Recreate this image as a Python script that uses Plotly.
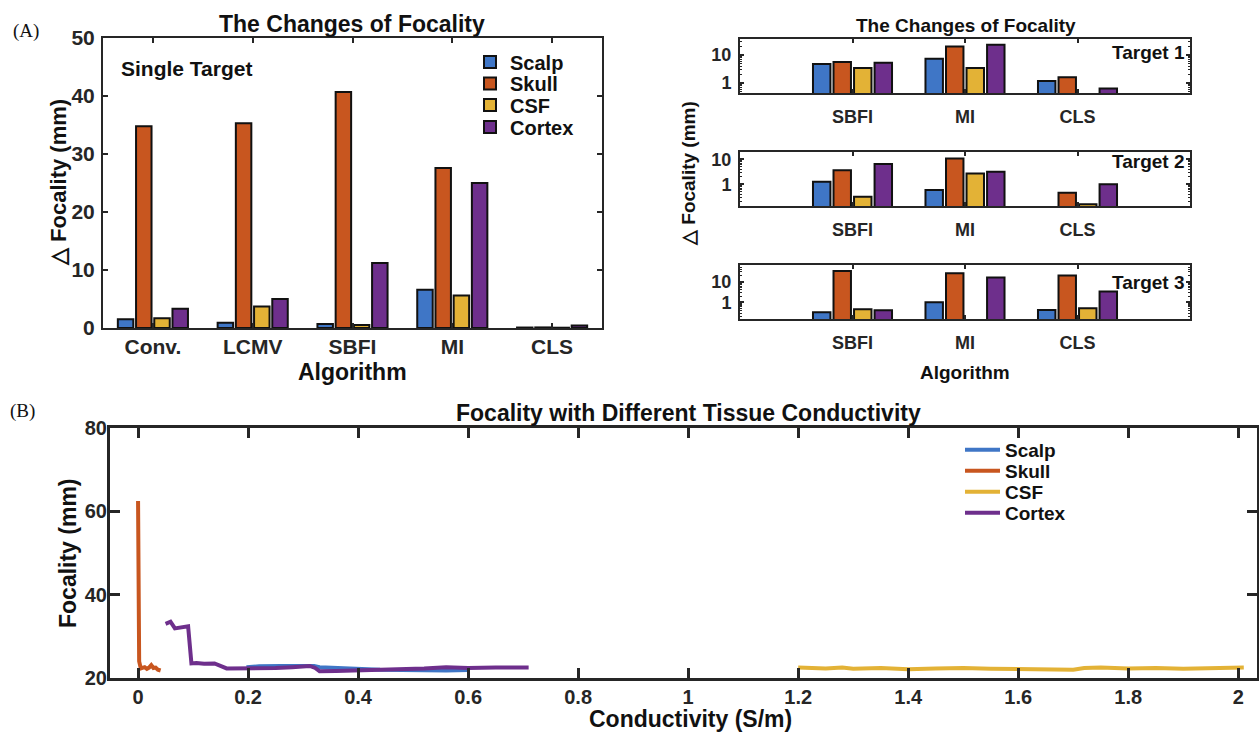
import plotly.graph_objects as go

W, H = 1259, 733
FONT = "Liberation Sans, Arial, Helvetica, sans-serif"
SERIF = "Liberation Serif, Times New Roman, serif"
INK = "#262626"

# ---------------- data ----------------
tissues = ["Scalp", "Skull", "CSF", "Cortex"]
colors = ["#3F76C6", "#C8561F", "#E3B236", "#6E2F8C"]

single_algos = ["Conv.", "LCMV", "SBFI", "MI", "CLS"]
single_scalp = [1.5, 0.9, 0.7, 6.6, 0.08]
single_skull = [34.8, 35.3, 40.7, 27.6, 0.1]
single_csf = [1.7, 3.7, 0.5, 5.6, 0.05]
single_cortex = [3.3, 5.0, 11.2, 25.0, 0.45]

multi_algos = ["SBFI", "MI", "CLS"]
t1_scalp = [4.8, 7.4, 1.18]
t1_skull = [5.6, 20.0, 1.6]
t1_csf = [3.4, 3.4, None]
t1_cortex = [5.3, 23.0, 0.63]

t2_scalp = [1.27, 0.59, None]
t2_skull = [3.7, 11.0, 0.46]
t2_csf = [0.32, 2.75, 0.16]
t2_cortex = [6.5, 3.2, 1.0]

t3_scalp = [0.33, 1.0, 0.42]
t3_skull = [33.0, 26.0, 20.0]
t3_csf = [0.46, None, 0.51]
t3_cortex = [0.41, 16.0, 3.3]

scalp_x = [0.197, 0.22, 0.26, 0.30, 0.32, 0.33, 0.36, 0.40, 0.44, 0.48, 0.52, 0.56, 0.60]
scalp_y = [22.6, 22.8, 22.9, 22.9, 22.9, 22.6, 22.4, 22.2, 22.0, 21.9, 21.8, 21.8, 21.9]

skull_x = [0.0, 0.002, 0.005, 0.008, 0.012, 0.016, 0.02, 0.024, 0.028, 0.032, 0.036, 0.041]
skull_y = [62.5, 24.0, 22.3, 22.4, 22.6, 22.2, 22.5, 23.1, 22.4, 22.5, 22.0, 21.8]

csf_x = [1.20, 1.25, 1.28, 1.30, 1.35, 1.40, 1.45, 1.50, 1.55, 1.60, 1.65, 1.70, 1.72,
         1.75, 1.80, 1.85, 1.90, 1.95, 2.00, 2.01]
csf_y = [22.5, 22.3, 22.5, 22.2, 22.4, 22.1, 22.3, 22.4, 22.2, 22.1, 22.0, 22.0, 22.4,
         22.5, 22.3, 22.4, 22.2, 22.3, 22.4, 22.5]

cortex_x = [0.050, 0.059, 0.067, 0.078, 0.091, 0.097, 0.106, 0.12, 0.139, 0.161, 0.18,
            0.197, 0.22, 0.25, 0.28, 0.312, 0.322, 0.330, 0.36, 0.40, 0.44, 0.48, 0.52,
            0.56, 0.60, 0.65, 0.71]
cortex_y = [33.0, 33.5, 31.9, 32.2, 32.4, 23.5, 23.6, 23.4, 23.5, 22.3, 22.3, 22.4, 22.2,
            22.4, 22.6, 22.9, 22.4, 21.6, 21.7, 21.8, 21.9, 22.1, 22.3, 22.6, 22.4, 22.5,
            22.5]

# ---------------- helpers ----------------
def fx(px):
    return px / W


def fy(py):
    return 1 - py / H


fig = go.Figure()

bar_legends = ["legend", "legend2", "legend3", "legend4"]
line_legends = ["legend5", "legend6", "legend7", "legend8"]


def add_bars(cats, series, xa, ya, showlegend):
    for name, vals, col, lg in zip(tissues, series, colors, bar_legends):
        fig.add_trace(go.Bar(
            x=cats, y=vals, name=name,
            marker=dict(color=col, line=dict(color="#111111", width=2)),
            xaxis=xa, yaxis=ya, showlegend=showlegend, legend=lg,
        ))


add_bars(single_algos, [single_scalp, single_skull, single_csf, single_cortex], "x", "y", True)
add_bars(multi_algos, [t1_scalp, t1_skull, t1_csf, t1_cortex], "x2", "y2", False)
add_bars(multi_algos, [t2_scalp, t2_skull, t2_csf, t2_cortex], "x3", "y3", False)
add_bars(multi_algos, [t3_scalp, t3_skull, t3_csf, t3_cortex], "x4", "y4", False)

for name, xs, ys, col, lg in zip(tissues, [scalp_x, skull_x, csf_x, cortex_x],
                                 [scalp_y, skull_y, csf_y, cortex_y], colors, line_legends):
    fig.add_trace(go.Scatter(
        x=xs, y=ys, mode="lines", name=name,
        line=dict(color=col, width=4),
        xaxis="x5", yaxis="y5", legend=lg,
    ))


def axstyle(size, lw=2, tl=5, tw=2, standoff=0):
    return dict(
        showline=True, linecolor=INK, linewidth=lw, mirror="ticks",
        ticks="inside", ticklen=tl, tickwidth=tw, tickcolor=INK,
        showgrid=False, zeroline=False, ticklabelstandoff=standoff,
        automargin=False,
        tickfont=dict(family=FONT, size=size, color=INK, weight="bold"),
    )


minor_vals = [v * m for m in (0.1, 1, 10) for v in range(2, 10)]

layout = dict(
    width=W, height=H,
    margin=dict(l=0, r=0, t=0, b=0, pad=0, autoexpand=False),
    paper_bgcolor="white", plot_bgcolor="white",
    barmode="group", bargap=0.27, bargroupgap=0.15,
    font=dict(family=FONT, color=INK),
)

# top-left
layout["xaxis"] = dict(domain=[fx(103), fx(602)], anchor="y", type="category",
                       categoryorder="array", categoryarray=single_algos,
                       range=[-0.5, 4.5], **axstyle(21, standoff=-1))
layout["yaxis"] = dict(domain=[fy(328), fy(38)], anchor="x", range=[0, 50],
                       tickvals=[0, 10, 20, 30, 40, 50], **axstyle(21, standoff=2))

# right panels
right_geo = [(39, 93, [-0.357, 1.57]), (152, 206, [-0.87, 1.30]), (265, 319, [-0.81, 1.81])]
for i, (top, bot, rng) in enumerate(right_geo, start=2):
    layout[f"xaxis{i}"] = dict(domain=[fx(740), fx(1190)], anchor=f"y{i}", type="category",
                               categoryorder="array", categoryarray=multi_algos,
                               range=[-1, 3], **axstyle(18, tl=4, standoff=6))
    layout[f"yaxis{i}"] = dict(domain=[fy(bot), fy(top)], anchor=f"x{i}", type="log",
                               range=rng, tickmode="array", tickvals=[1, 10],
                               ticktext=["1", "10"],
                               minor=dict(ticks="inside", ticklen=2, tickwidth=1,
                                          tickcolor=INK, tickmode="array",
                                          tickvals=minor_vals),
                               **axstyle(18, tl=4, standoff=3))

# bottom
layout["xaxis5"] = dict(domain=[fx(110), fx(1257)], anchor="y5", range=[-0.051, 2.034],
                        tick0=0, dtick=0.2, **axstyle(20, lw=3, tl=10, tw=3, standoff=-1))
layout["yaxis5"] = dict(domain=[fy(678), fy(428)], anchor="x5", range=[20, 80],
                        tickvals=[20, 40, 60, 80], **axstyle(20, lw=3, tl=10, tw=3, standoff=-4))

bar_font = dict(family=FONT, size=20, color="#111111", weight="bold")
line_font = dict(family=FONT, size=19, color="#111111", weight="bold")
for lg, py in zip(bar_legends, [62, 83.5, 105, 127]):
    layout[lg] = dict(x=fx(470), y=fy(py), xanchor="left", yanchor="middle",
                      bgcolor="rgba(0,0,0,0)", borderwidth=0, font=bar_font)
for lg, py in zip(line_legends, [450, 471, 492, 513]):
    layout[lg] = dict(x=fx(960), y=fy(py), xanchor="left", yanchor="middle",
                      itemwidth=35, bgcolor="rgba(0,0,0,0)", borderwidth=0, font=line_font)

fig.update_layout(**layout)


def ann(text, px, py, size, rot=0, xanchor="center", family=FONT, weight="bold", color="#111111"):
    fig.add_annotation(text=text, x=fx(px), y=fy(py), xref="paper", yref="paper",
                       showarrow=False, xanchor=xanchor, yanchor="middle", textangle=rot,
                       font=dict(family=family, size=size, color=color, weight=weight))


ann("(A)", 26, 31, 19, family=SERIF, weight="normal")
ann("(B)", 22, 411, 19, family=SERIF, weight="normal")
ann("The Changes of Focality", 352, 24, 23)
ann("Single Target", 119, 68, 21, xanchor="left")
ann("△ Focality (mm)", 58, 183, 22, rot=-90)
ann("Algorithm", 352, 372, 23)

ann("The Changes of Focality", 966, 25, 19)
ann("Target 1", 1187, 53, 19, xanchor="right")
ann("Target 2", 1187, 162, 19, xanchor="right")
ann("Target 3", 1187, 282, 19, xanchor="right")
ann("△ Focality (mm)", 689, 174, 19, rot=-90)
ann("Algorithm", 965, 372, 19)

ann("Focality with Different Tissue Conductivity", 688, 413, 23)
ann("Conductivity (S/m)", 690, 719, 23)
ann("Focality (mm)", 68, 553, 23, rot=-90)

fig.write_html("out.html")
